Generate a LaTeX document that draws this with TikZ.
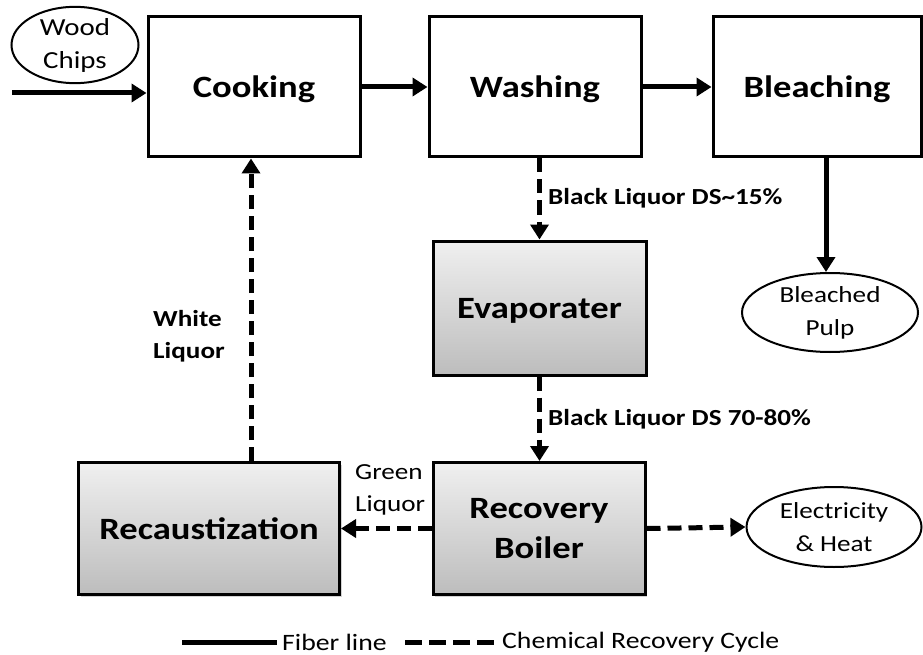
\documentclass[tikz,border=0pt]{standalone}
\usepackage{fontspec}
\setmainfont[FakeStretch=1.18]{Carlito}
\usetikzlibrary{arrows.meta,shapes.geometric,shadows}
\begin{document}
\begin{tikzpicture}[x=1pt,y=-1pt,
  whitebox/.style={draw,line width=3pt,fill=white,inner sep=0pt,align=center,text depth=0pt,
    font=\fontsize{31}{40}\selectfont\bfseries},
  graybox/.style={whitebox,top color=black!6,bottom color=black!26,
    drop shadow={opacity=0.35,shadow xshift=2pt,shadow yshift=-2pt}},
  oval/.style={draw,ellipse,line width=2pt,inner sep=0pt,align=center,
    font=\fontsize{23}{33}\selectfont},
  fib/.style={line width=5pt,-{Triangle[length=15pt,width=18pt]}},
  chem/.style={fib,dash pattern=on 14pt off 7pt},
  lbl/.style={font=\fontsize{23}{32}\selectfont\bfseries,inner sep=0pt,align=left},
  lblr/.style={font=\fontsize{23}{32}\selectfont,inner sep=0pt,align=left},
  legtext/.style={font=\fontsize{23.5}{28}\selectfont,inner sep=0pt,anchor=west}
]
\useasboundingbox (0,0) rectangle (923,655);

% boxes
\node[whitebox,minimum width=212pt,minimum height=140pt] (cook) at (254,87) {Cooking};
\node[whitebox,minimum width=212pt,minimum height=140pt] (wash) at (535,87) {Washing};
\node[whitebox,minimum width=208pt,minimum height=140pt] (bleach) at (817,87) {Bleaching};
\node[graybox,minimum width=213pt,minimum height=134pt] (evap) at (539.5,308) {Evaporater};
\node[graybox,minimum width=212pt,minimum height=132pt] (recov) at (539,528.5) {Recovery\\Boiler};
\node[graybox,minimum width=261pt,minimum height=132pt] (recaus) at (209,528.5) {Recaustization};

% ovals
\node[oval,minimum width=127pt,minimum height=76pt,font=\fontsize{24.5}{33}\selectfont] (wood) at (75,45) {Wood\\Chips};
\node[oval,minimum width=176pt,minimum height=79pt] (pulp) at (830,312.5) {Bleached\\Pulp};
\node[oval,minimum width=175pt,minimum height=80pt] (elec) at (834,527) {Electricity\\\& Heat};

% fiber line
\coordinate (in) at (12,93);
\draw[fib] (in) -- (in -| cook.west);
\draw[fib] (cook.east) -- (wash.west);
\draw[fib] (wash.east) -- (bleach.west);
\draw[fib] ([xshift=9pt]bleach.south) -- ([xshift=9pt]bleach.south |- pulp.north);

% chemical recovery cycle
\draw[chem] (wash.south -| evap.north) -- (evap.north);
\draw[chem] (evap.south) -- (evap.south |- recov.north);
\draw[chem] (recov.west) -- (recaus.east);
\draw[chem] (recov.east) -- (elec.west);
\draw[chem] ([xshift=-3pt]recaus.north -| cook.south) -- ([xshift=-3pt]cook.south);

% labels
\node[lbl,anchor=west] (bl1) at (548,198) {Black Liquor DS\char`~15\%};
\node[lbl,anchor=west] (bl2) at (548,419) {Black Liquor DS 70-80\%};
\node[lbl,anchor=west] (wl) at (153,336) {White\\Liquor};
\node[lblr,anchor=west] (gl) at (355,490) {Green\\Liquor};

% legend
\coordinate (la) at (182,642);
\coordinate (lb) at (277,642);
\coordinate (lc) at (405,642);
\coordinate (ld) at (496,642);
\draw[line width=5pt] (la) -- (lb);
\node[legtext] (lt1) at (282,642) {Fiber line};
\draw[line width=5pt,dash pattern=on 17pt off 7pt] (lc) -- (ld);
\node[legtext] (lt2) at (502,642) {Chemical Recovery Cycle};
\end{tikzpicture}
\end{document}
